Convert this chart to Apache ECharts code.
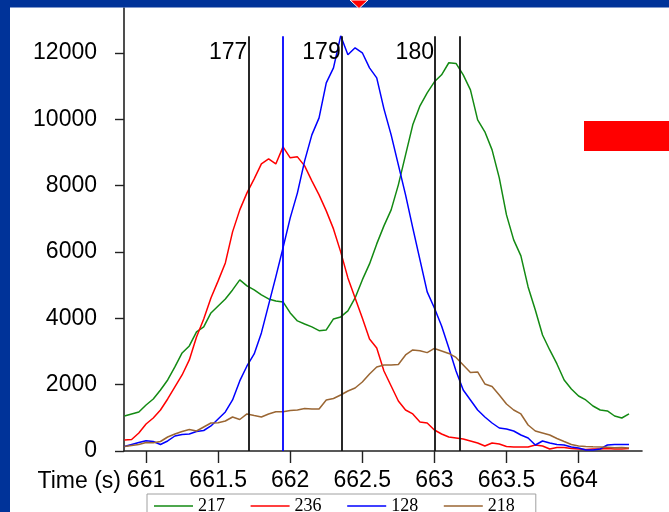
<!DOCTYPE html>
<html>
<head>
<meta charset="utf-8">
<script src="https://cdn.jsdelivr.net/npm/echarts@6/dist/echarts.min.js"></script>
<style>
  html, body { margin: 0; padding: 0; background: #ffffff; }
  #chart { width: 669px; height: 512px; }
</style>
</head>
<body>
<div id="chart"></div>
<script>
// Sample times (s)
const times = [
  660.85, 660.90, 660.95, 661.00, 661.05, 661.10, 661.15, 661.20, 661.25, 661.30,
  661.35, 661.40, 661.45, 661.50, 661.55, 661.60, 661.65, 661.70, 661.75, 661.80,
  661.85, 661.90, 661.95, 662.00, 662.05, 662.10, 662.15, 662.20, 662.25, 662.30,
  662.35, 662.40, 662.45, 662.50, 662.55, 662.60, 662.65, 662.70, 662.75, 662.80,
  662.85, 662.90, 662.95, 663.00, 663.05, 663.10, 663.15, 663.20, 663.25, 663.30,
  663.35, 663.40, 663.45, 663.50, 663.55, 663.60, 663.65, 663.70, 663.75, 663.80,
  663.85, 663.90, 663.95, 664.00, 664.05, 664.10, 664.15, 664.20, 664.25, 664.30,
  664.35
];

// Ion intensities per channel
const ion217 = [
  1055, 1116, 1176, 1387, 1568, 1839, 2141, 2533, 2955, 3166,
  3588, 3739, 4161, 4372, 4583, 4854, 5156, 4975, 4854, 4703,
  4583, 4522, 4492, 4161, 3920, 3829, 3739, 3627, 3648, 3980,
  4040, 4221, 4613, 5156, 5638, 6241, 6784, 7266, 8020, 8924,
  9829, 10402, 10794, 11125, 11336, 11700, 11680, 11336, 10884, 9980,
  9618, 9075, 8231, 7115, 6362, 5879, 4945, 4251, 3497, 3045,
  2623, 2141, 1869, 1658, 1538, 1357, 1236, 1206, 1055, 995,
  1116
];
const ion236 = [
  332, 347, 543, 814, 995, 1236, 1568, 1930, 2291, 2744,
  3437, 3980, 4613, 5126, 5668, 6603, 7266, 7779, 8201, 8653,
  8800, 8650, 9166, 8834, 8864, 8593, 8141, 7718, 7236, 6693,
  6000, 5216, 4613, 4010, 3377, 3106, 2412, 1960, 1508, 1236,
  1116, 874, 844, 633, 513, 422, 392, 362, 302, 241,
  151, 241, 211, 136, 121, 121, 121, 181, 151, 60,
  106, 106, 75, 60, 45, 60, 60, 75, 60, 60,
  75
];
const ion128 = [
  136, 196, 256, 311, 286, 196, 302, 452, 497, 513,
  588, 618, 754, 965, 1176, 1538, 2111, 2563, 2925, 3558,
  4402, 5246, 6120, 7025, 7779, 8744, 9527, 10040, 11095, 11547,
  12512, 11940, 12150, 12000, 11547, 11246, 10311, 9527, 8623, 7718,
  6723, 5759, 4794, 4311, 3769, 3106, 2412, 1839, 1538, 1236,
  1025, 844, 693, 663, 603, 482, 392, 181, 302, 241,
  196, 181, 121, 90, 30, 30, 60, 181, 196, 196,
  196
];
const ion218 = [
  136, 166, 196, 256, 250, 286, 422, 513, 588, 648,
  603, 724, 844, 853, 905, 1025, 950, 1116, 1070, 1025,
  1116, 1185, 1185, 1221, 1236, 1281, 1266, 1266, 1538, 1583,
  1688, 1809, 1899, 2080, 2322, 2533, 2593, 2593, 2608, 2894,
  3045, 3024, 2964, 3090, 3015, 2940, 2819, 2593, 2367, 2382,
  2020, 1945, 1688, 1417, 1236, 1116, 784, 603, 543, 482,
  377, 286, 196, 151, 136, 127, 121, 112, 97, 106,
  90
];

const seriesNames = ['217', '236', '128', '218'];
const seriesColors = ['#138a13', '#ff0000', '#0000ff', '#9a6633'];
const seriesValues = [ion217, ion236, ion128, ion218];

// Scan markers (vertical lines) and their labels
const markerTimes = [661.709, 661.948, 662.357, 663.004, 663.178];
const markerLabels = ['177', '', '179', '180', ''];
const markerColors = ['#111111', '#0000ff', '#111111', '#111111', '#111111'];
const markerTop = 12500;
const markerLabelLevel = 12000;

const FONT = 'Liberation Sans';
const chart = echarts.init(document.getElementById('chart'), null, { renderer: 'canvas' });

const series = seriesNames.map((name, k) => ({
  name: name,
  type: 'line',
  data: times.map((t, i) => [t, seriesValues[k][i]]),
  symbol: 'none',
  lineStyle: { color: seriesColors[k], width: 1.5 },
  itemStyle: { color: seriesColors[k] },
  z: 3
}));

series.push({
  name: 'markers',
  type: 'line',
  data: [],
  silent: true,
  z: 5,
  markLine: {
    silent: true,
    symbol: ['none', 'none'],
    label: { show: false },
    z: 5,
    data: markerTimes.map((t, i) => [
      { coord: [t, markerTop], lineStyle: { color: markerColors[i], width: 1.8, type: 'solid' } },
      { coord: [t, 0] }
    ])
  },
  markPoint: {
    silent: true,
    symbol: 'rect',
    symbolSize: 0,
    data: markerTimes
      .map((t, i) => ({ name: markerLabels[i], coord: [t, markerLabelLevel] }))
      .filter(d => d.name !== ''),
    label: {
      show: true,
      position: 'left',
      distance: 1,
      formatter: p => p.name,
      color: '#000000',
      fontFamily: FONT,
      fontSize: 23
    }
  }
});

const option = {
  animation: false,
  backgroundColor: '#ffffff',
  grid: { left: 124, right: 27, top: 8, bottom: 61, containLabel: false },
  legend: {
    data: seriesNames,
    left: 147,
    top: 494,
    orient: 'horizontal',
    icon: 'rect',
    itemWidth: 39,
    itemHeight: 1.6,
    itemGap: 25.6,
    padding: [3, 21, 6, 7],
    backgroundColor: '#ffffff',
    borderColor: '#a0a0a0',
    borderWidth: 1,
    borderRadius: 0,
    selectedMode: false,
    textStyle: { fontFamily: 'Liberation Serif', fontSize: 18, color: '#000000' }
  },
  xAxis: {
    type: 'value',
    min: 660.847,
    max: 664.44,
    minInterval: 0.5,
    maxInterval: 0.5,
    name: 'Time (s)',
    nameLocation: 'start',
    nameGap: 1,
    nameTextStyle: {
      fontFamily: FONT, fontSize: 23, color: '#000000',
      align: 'right', verticalAlign: 'top', padding: [19, 0, 0, 0]
    },
    axisLine: { show: true, onZero: false, lineStyle: { color: '#222222', width: 1.6 } },
    axisTick: { show: true, inside: false, length: 12, lineStyle: { color: '#222222', width: 1.4 } },
    axisLabel: {
      fontFamily: FONT, fontSize: 23, color: '#000000', margin: 18,
      showMinLabel: false, showMaxLabel: false,
      formatter: v => String(v)
    },
    splitLine: { show: false }
  },
  yAxis: {
    type: 'value',
    min: 0,
    max: 13350,
    minInterval: 2000,
    maxInterval: 2000,
    axisLine: { show: true, onZero: false, lineStyle: { color: '#222222', width: 1.6 } },
    axisTick: { show: true, inside: false, length: 9, lineStyle: { color: '#222222', width: 1.4 } },
    axisLabel: {
      fontFamily: FONT, fontSize: 23, color: '#000000', margin: 27,
      showMaxLabel: false,
      formatter: v => String(v)
    },
    splitLine: { show: false }
  },
  graphic: [
    // Frame bands
    { type: 'rect', left: 0, top: 0, z: 100, shape: { width: 669, height: 7.5 }, style: { fill: '#003399' }, silent: true },
    { type: 'rect', left: 0, top: 0, z: 100, shape: { width: 10, height: 512 }, style: { fill: '#003399' }, silent: true },
    // Pointer at the top edge
    { type: 'polygon', z: 101, shape: { points: [[350, 0], [368, 0], [359, 8.5]] }, style: { fill: '#ff0000', stroke: '#ffffff', lineWidth: 1 }, silent: true },
    // Red block on the right edge
    { type: 'rect', left: 584, top: 121, z: 100, shape: { width: 85, height: 30 }, style: { fill: '#ff0000' }, silent: true }
  ],
  series: series
};

chart.setOption(option);
</script>
</body>
</html>
